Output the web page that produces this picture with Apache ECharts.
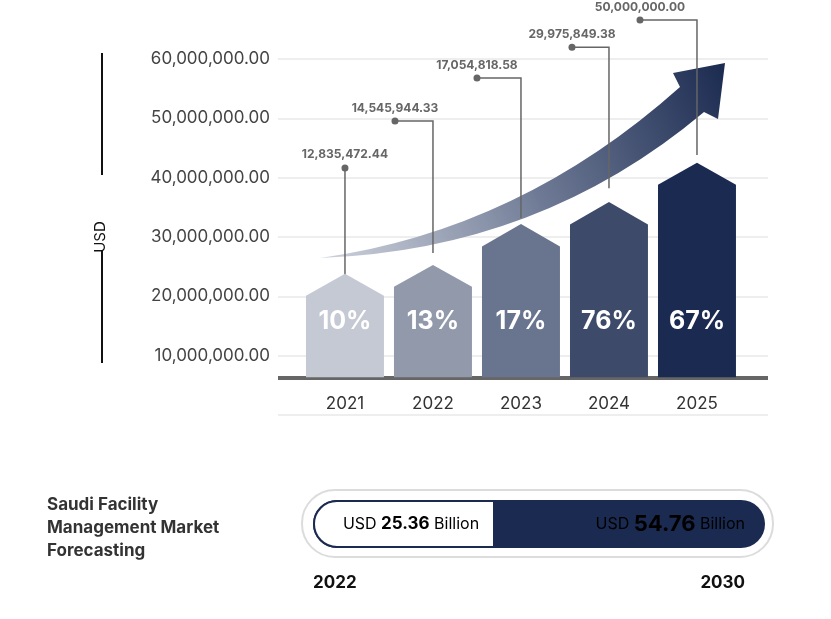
<!DOCTYPE html>
<html>
<head>
<meta charset="utf-8">
<script src="https://cdn.jsdelivr.net/npm/echarts@6/dist/echarts.min.js"></script>
<style>html,body{margin:0;padding:0;background:#fff}#main{width:831px;height:619px}</style>
</head>
<body>
<div id="main"></div>
<script>
// data
var years = ['2021', '2022', '2023', '2024', '2025'];
var rectTop = [20.1e6, 21.6e6, 28.4e6, 32.1e6, 38.8e6];
var peakTop = [23.8e6, 25.3e6, 32.2e6, 35.9e6, 42.5e6];
var growth = ['10%', '13%', '17%', '76%', '67%'];
var marketValues = ['12,835,472.44', '14,545,944.33', '17,054,818.58', '29,975,849.38', '50,000,000.00'];
var dotLevel = [41.65e6, 49.56e6, 56.8e6, 62.0e6, 66.57e6];
var lineEnd = [23.0e6, 27.3e6, 33.2e6, 38.2e6, 43.8e6];
var barColors = ['#c5c9d3', '#9199ab', '#69748f', '#3d4a6a', '#1b2a50'];
var BASE = 6.35e6;
var YEAR_LEVEL = 1.92e6;
var FONT = 'Inter, "Noto Sans", sans-serif';

var chart = echarts.init(document.getElementById('main'));

function renderBar(params, api) {
  var i = params.dataIndex;
  var x = api.value(0);
  var half = api.size([1, 0])[0] * 0.443;
  var b = api.coord([x, BASE]);
  var t = api.coord([x, rectTop[i]]);
  var p = api.coord([x, peakTop[i]]);
  var mid = api.coord([x, (BASE + rectTop[i]) / 2]);
  var yr = api.coord([x, YEAR_LEVEL]);
  return {
    type: 'group',
    children: [
      { type: 'polygon', shape: { points: [[b[0] - half, b[1]], [b[0] - half, t[1]], [p[0], p[1]], [b[0] + half, t[1]], [b[0] + half, b[1]]] },
        style: { fill: barColors[i] } },
      { type: 'text', x: mid[0], y: 321, style: { text: growth[i], fill: '#fff', font: 'bold 25px ' + FONT, align: 'center', verticalAlign: 'middle' } },
      { type: 'text', x: yr[0], y: yr[1], style: { text: years[i], fill: '#333', font: '17px ' + FONT, align: 'center', verticalAlign: 'middle' } }
    ]
  };
}

var dotOffsets = [0, -38, -44, -37, -57];
function renderNote(params, api) {
  var i = params.dataIndex;
  var x = api.value(0);
  var c = api.coord([x, lineEnd[i]]);
  var d = api.coord([x, dotLevel[i]]);
  var dx = c[0] + dotOffsets[i];
  return {
    type: 'group',
    children: [
      { type: 'polyline', shape: { points: [[dx, d[1]], [c[0], d[1]], [c[0], c[1]]] }, style: { stroke: '#666', lineWidth: 1.5, fill: null } },
      { type: 'circle', shape: { cx: dx, cy: d[1], r: 3.5 }, style: { fill: '#666' } },
      { type: 'text', x: dx, y: d[1] - 13, style: { text: marketValues[i], fill: '#666', font: 'bold 12px ' + FONT, align: 'center', verticalAlign: 'middle' } }
    ]
  };
}

function renderArrow() {
  return {
    type: 'path',
    shape: { pathData: 'M320 258 Q520 230 680 87 L673 73 L725 63 L718 119 L704 112 Q540 250 320 258 Z' },
    style: { fill: new echarts.graphic.LinearGradient(0, 1, 1, 0, [
      { offset: 0, color: 'rgba(200,205,216,0.9)' }, { offset: 0.5, color: '#6e7a95' }, { offset: 1, color: '#1b2a50' }]) }
  };
}

var option = {
  animation: false,
  grid: { left: 278, right: 63, top: 59, bottom: 204 },
  xAxis: { type: 'value', min: -0.761, max: 4.807, show: false },
  yAxis: {
    type: 'value', min: 0, max: 60e6, interval: 10e6,
    name: 'USD', nameLocation: 'middle', nameRotate: 90, nameGap: 170,
    nameTextStyle: { fontFamily: FONT, fontSize: 15, color: '#111' },
    axisLine: { show: false }, axisTick: { show: false },
    axisLabel: { margin: 8, fontFamily: FONT, fontSize: 17, color: '#444',
      formatter: function (v) { return v === 0 ? '' : v.toLocaleString('en-US') + '.00'; } },
    splitLine: { lineStyle: { color: '#eeeeee', width: 2 } }
  },
  graphic: [
    { type: 'line', shape: { x1: 102, y1: 53, x2: 102, y2: 175 }, style: { stroke: '#111', lineWidth: 2 } },
    { type: 'line', shape: { x1: 102, y1: 250, x2: 102, y2: 363 }, style: { stroke: '#111', lineWidth: 2 } },
    { type: 'text', left: 47, top: 493, style: { text: 'Saudi Facility\nManagement Market\nForecasting', fill: '#333', font: 'bold 17px ' + FONT, lineHeight: 23 } },
    { type: 'rect', shape: { x: 302, y: 490, width: 471, height: 67, r: 33 }, style: { fill: '#fff', stroke: '#dcdcdc', lineWidth: 2 } },
    { type: 'rect', shape: { x: 313, y: 500, width: 452, height: 48, r: 24 }, style: { fill: '#1b2a50' } },
    { type: 'rect', shape: { x: 314, y: 501, width: 180, height: 46, r: [23, 0, 0, 23] }, style: { fill: '#fff', stroke: '#1b2a50', lineWidth: 2 } },
    { type: 'text', x: 411, y: 524, style: { text: '{a|USD }{b|25.36}{a| Billion}', align: 'center', verticalAlign: 'middle',
      rich: { a: { fontFamily: FONT, fontSize: 16, color: '#333' }, b: { fontFamily: FONT, fontSize: 17, fontWeight: 'bold', color: '#333' } } } },
    { type: 'text', x: 745, y: 524, style: { text: '{a|USD }{b|54.76}{a| Billion}', align: 'right', verticalAlign: 'middle',
      rich: { a: { fontFamily: FONT, fontSize: 16, color: '#fff' }, b: { fontFamily: FONT, fontSize: 22, fontWeight: 'bold', color: '#fff' } } } },
    { type: 'text', left: 313, top: 574, style: { text: '2022', fill: '#111', font: 'bold 17px ' + FONT } },
    { type: 'text', right: 86, top: 574, style: { text: '2030', fill: '#111', font: 'bold 17px ' + FONT } }
  ],
  series: [
    { type: 'custom', z: 5, renderItem: renderArrow, data: [[0]] },
    { type: 'custom', z: 6, renderItem: renderNote, data: years.map(function (y, i) { return [i]; }) },
    { type: 'custom', z: 7, renderItem: renderBar, data: years.map(function (y, i) { return [i]; }),
      markLine: { silent: true, symbol: 'none', label: { show: false }, lineStyle: { color: '#666', width: 4, type: 'solid' }, data: [{ yAxis: BASE }] } }
  ]
};
chart.setOption(option);
</script>
</body>
</html>
